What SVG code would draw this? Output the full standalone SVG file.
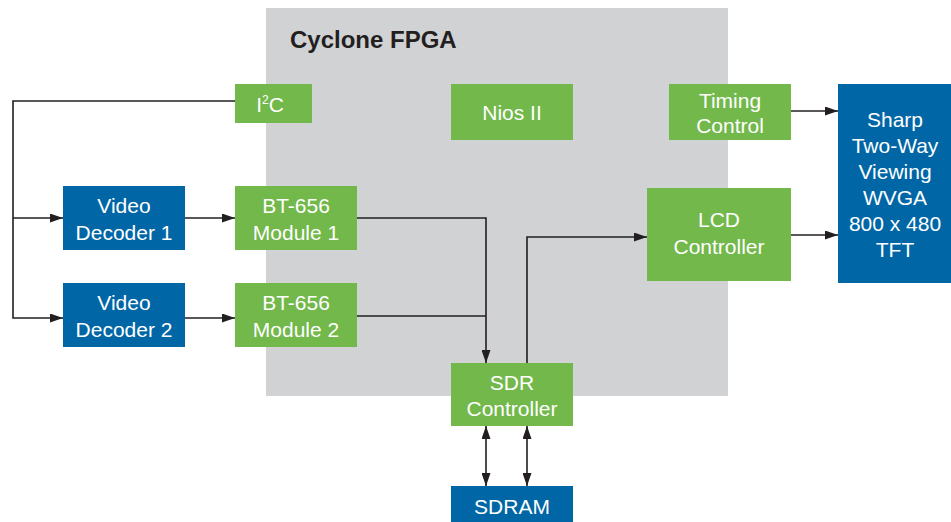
<svg xmlns="http://www.w3.org/2000/svg" width="951" height="522" viewBox="0 0 951 522">
<style>
.g{fill:#72b84a}
.b{fill:#0066a6}
.t{font-family:"Liberation Sans",Arial,sans-serif;font-size:21px;fill:#ffffff;text-anchor:middle}
.c{fill:none;stroke:#231f20;stroke-width:1.6}
</style>
<defs>
<marker id="ah" viewBox="0 0 13 9" refX="13" refY="4.5" markerWidth="13" markerHeight="9" markerUnits="userSpaceOnUse" orient="auto-start-reverse">
<path d="M0,0 L13,4.5 L0,9 Z" fill="#231f20"/>
</marker>
</defs>
<rect width="951" height="522" fill="#ffffff"/>
<g id="fpga">
<rect x="266" y="8" width="462" height="388" fill="#d1d2d4"/>
<text x="290" y="48" font-family="'Liberation Sans',Arial,sans-serif" font-size="24" font-weight="bold" fill="#231f20">Cyclone FPGA</text>
</g>
<g id="connectors">
<path class="c" d="M235,101 H13 V318 H63" marker-end="url(#ah)"/>
<path class="c" d="M13,218 H63" marker-end="url(#ah)"/>
<path class="c" d="M185,218 H235" marker-end="url(#ah)"/>
<path class="c" d="M185,318 H235" marker-end="url(#ah)"/>
<path class="c" d="M357,218 H486 V363" marker-end="url(#ah)"/>
<path class="c" d="M357,316 H486"/>
<path class="c" d="M527,363 V237 H647" marker-end="url(#ah)"/>
<path class="c" d="M791,111 H838" marker-end="url(#ah)"/>
<path class="c" d="M791,235 H838" marker-end="url(#ah)"/>
<path class="c" d="M486,426 V486" marker-start="url(#ah)" marker-end="url(#ah)"/>
<path class="c" d="M527,426 V486" marker-start="url(#ah)" marker-end="url(#ah)"/>
</g>
<g id="i2c">
<rect class="g" x="235" y="84" width="77" height="39"/>
<text class="t" x="270" y="112">I<tspan font-size="12" dy="-8">2</tspan><tspan dy="8">C</tspan></text>
</g>
<g id="nios">
<rect class="g" x="451" y="84" width="122" height="56"/>
<text class="t" x="512" y="120">Nios II</text>
</g>
<g id="timing">
<rect class="g" x="669" y="84" width="122" height="56"/>
<text class="t" x="730" y="108">Timing</text>
<text class="t" x="730" y="133">Control</text>
</g>
<g id="sharp">
<rect class="b" x="838" y="84" width="113" height="199"/>
<text class="t" x="895" y="127">Sharp</text>
<text class="t" x="895" y="153">Two-Way</text>
<text class="t" x="895" y="179">Viewing</text>
<text class="t" x="895" y="205">WVGA</text>
<text class="t" x="895" y="231">800 x 480</text>
<text class="t" x="895" y="257">TFT</text>
</g>
<g id="lcd">
<rect class="g" x="647" y="188" width="144" height="93"/>
<text class="t" x="719" y="227">LCD</text>
<text class="t" x="719" y="254">Controller</text>
</g>
<g id="vd1">
<rect class="b" x="63" y="186" width="122" height="64"/>
<text class="t" x="124" y="213">Video</text>
<text class="t" x="124" y="240">Decoder 1</text>
</g>
<g id="bt1">
<rect class="g" x="235" y="186" width="122" height="64"/>
<text class="t" x="296" y="213">BT-656</text>
<text class="t" x="296" y="240">Module 1</text>
</g>
<g id="vd2">
<rect class="b" x="63" y="283" width="122" height="64"/>
<text class="t" x="124" y="310">Video</text>
<text class="t" x="124" y="337">Decoder 2</text>
</g>
<g id="bt2">
<rect class="g" x="235" y="283" width="122" height="64"/>
<text class="t" x="296" y="310">BT-656</text>
<text class="t" x="296" y="337">Module 2</text>
</g>
<g id="sdr">
<rect class="g" x="451" y="363" width="122" height="63"/>
<text class="t" x="512" y="390">SDR</text>
<text class="t" x="512" y="416">Controller</text>
</g>
<g id="sdram">
<rect class="b" x="451" y="486" width="122" height="36"/>
<text class="t" x="512" y="514">SDRAM</text>
</g>
</svg>
